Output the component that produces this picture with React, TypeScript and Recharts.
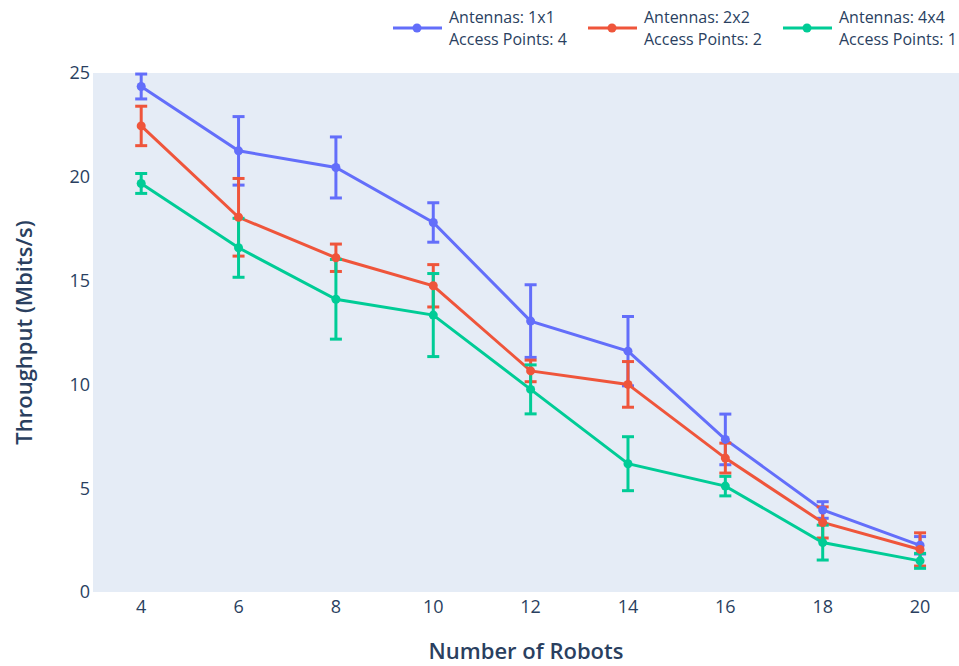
import { LineChart, Line, XAxis, YAxis, ErrorBar } from 'recharts';

const robots = [4, 6, 8, 10, 12, 14, 16, 18, 20];

const tput1x1 = [24.35, 21.25, 20.45, 17.8, 13.05, 11.6, 7.35, 3.95, 2.25];
const err1x1 = [0.6, 1.65, 1.47, 0.95, 1.75, 1.67, 1.22, 0.4, 0.42];

const tput2x2 = [22.45, 18.05, 16.1, 14.75, 10.65, 10.0, 6.45, 3.35, 2.05];
const err2x2 = [0.95, 1.87, 0.66, 1.02, 0.52, 1.1, 0.72, 0.75, 0.8];

const tput4x4 = [19.68, 16.58, 14.1, 13.34, 9.76, 6.18, 5.1, 2.38, 1.5];
const err4x4 = [0.48, 1.42, 1.92, 2.0, 1.18, 1.3, 0.47, 0.84, 0.36];

const yTicks = [0, 5, 10, 15, 20, 25];

const SERIES = [
  { key: 's1', err: 'e1', color: '#636efa', line1: 'Antennas: 1x1', line2: 'Access Points: 4' },
  { key: 's2', err: 'e2', color: '#ef553b', line1: 'Antennas: 2x2', line2: 'Access Points: 2' },
  { key: 's3', err: 'e3', color: '#00cc96', line1: 'Antennas: 4x4', line2: 'Access Points: 1' },
];

const data = robots.map((r, i) => ({
  robots: r,
  s1: tput1x1[i],
  e1: err1x1[i],
  s2: tput2x2[i],
  e2: err2x2[i],
  s3: tput4x4[i],
  e3: err4x4[i],
}));

const FONT = '"Open Sans", sans-serif';
const TEXT = '#2a3f5f';

function LegendBox() {
  return (
    <div style={{ position: 'absolute', top: 6, left: 393, display: 'flex', fontFamily: FONT, fontSize: 16, color: TEXT }}>
      {SERIES.map((s) => (
        <div key={s.key} style={{ width: 195, display: 'flex', alignItems: 'center' }}>
          <svg width={49} height={10} style={{ marginRight: 7 }}>
            <line x1={0} y1={5} x2={49} y2={5} stroke={s.color} strokeWidth={3} />
            <circle cx={24} cy={5} r={4.5} fill={s.color} />
          </svg>
          <div style={{ lineHeight: '22px' }}>
            <div>{s.line1}</div>
            <div>{s.line2}</div>
          </div>
        </div>
      ))}
    </div>
  );
}

function YTitle(props: any) {
  const vb = props.viewBox || { x: 0, y: 73, width: 93, height: 519 };
  const cy = vb.y + vb.height / 2;
  return (
    <text
      x={23}
      y={cy}
      transform={`rotate(-90, 23, ${cy})`}
      textAnchor="middle"
      dominantBaseline="central"
      fill={TEXT}
      fontSize={22}
      fontWeight={600}
      fontFamily={FONT}
    >
      Throughput (Mbits/s)
    </text>
  );
}

export default function App() {
  return (
    <div style={{ position: 'absolute', left: 0, top: 0, width: 959, height: 666, background: '#fff' }}>
      <LineChart width={959} height={666} data={data} margin={{ top: 73, right: 0, left: 0, bottom: 0 }}>
        <rect x={93} y={73} width={866} height={519} fill="#e5ecf6" />
        <XAxis
          dataKey="robots"
          type="number"
          domain={[3.01, 20.8]}
          allowDataOverflow
          ticks={robots}
          height={74}
          axisLine={false}
          tickLine={false}
          tickSize={0}
          tickMargin={8}
          tick={{ fill: TEXT, fontSize: 18, fontFamily: FONT }}
          label={{ value: 'Number of Robots', position: 'insideBottom', offset: 7, fill: TEXT, fontSize: 22, fontWeight: 600, fontFamily: FONT }}
        />
        <YAxis
          type="number"
          domain={[0, 25]}
          allowDataOverflow
          ticks={yTicks}
          width={93}
          axisLine={false}
          tickLine={false}
          tickSize={0}
          tickMargin={3}
          tick={{ fill: TEXT, fontSize: 18, fontFamily: FONT }}
          label={{ content: YTitle }}
        />
        {SERIES.map((s) => (
          <Line
            key={s.key}
            dataKey={s.key}
            type="linear"
            stroke={s.color}
            strokeWidth={3}
            dot={{ r: 4.5, fill: s.color, stroke: 'none' }}
            activeDot={false}
            isAnimationActive={false}
          >
            <ErrorBar dataKey={s.err} direction="y" stroke={s.color} strokeWidth={3} width={6} isAnimationActive={false} />
          </Line>
        ))}
      </LineChart>
      <LegendBox />
    </div>
  );
}
